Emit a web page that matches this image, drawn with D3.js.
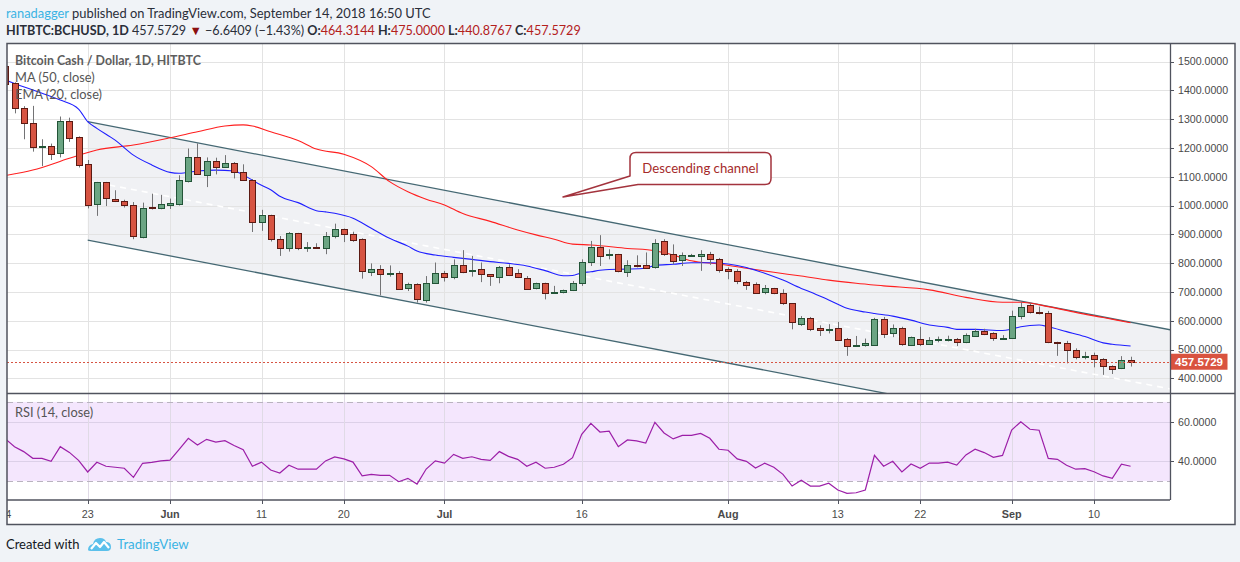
<!DOCTYPE html>
<html><head><meta charset="utf-8">
<script src="https://cdn.jsdelivr.net/npm/d3@7"></script>
<style>
html,body{margin:0;padding:0;background:#f0f3f7;}
svg{display:block;}
</style></head><body>
<svg id="c" width="1240" height="562"></svg>
<script>
// ---------------- DATA ----------------
const startDate = "2018-05-14"; // first daily candle, one candle per day
const opens  = [1485,1424,1338,1285,1201,1207,1180,1294,1238,1143,1002,1080,1024,1017,1002,894,994,990,
  1002,1005,1087,1170,1108,1156,1134,1149,1118,1090,943,966,883,851,903,853,857,854,894,917,900,883,770,781,763,767,712,726,674,732,
  767,753,795,771,778,761,753,788,765,750,712,730,696,698,706,730,804,857,827,830,771,795,794,788,877,833,810,825,826,833,816,
  779,771,736,729,698,713,695,660,591,611,573,568,576,538,512,515,515,606,554,573,515,537,521,532,533,536,525,548,565,556,538,
  540,617,655,629,626,525,521,498,473,481,467,443,435,464.3144];
const highs  = [1490,1428,1345,1346,1230,1215,1309,1305,1240,1158,1082,1082,1053,1020,1012,1010,1041,1037,
  1024,1105,1198,1216,1167,1166,1175,1151,1143,1092,985,968,894,908,905,873,869,908,937,920,909,886,799,793,792,772,732,730,755,802,
  773,813,845,825,802,762,790,796,779,755,732,732,721,708,738,813,877,897,848,832,810,827,837,883,883,865,837,832,845,839,818,
  785,779,738,733,724,714,709,661,616,613,584,588,596,540,547,538,610,613,587,579,545,579,543,545,548,540,556,572,572,560,550,
  635,664,660,649,634,527,530,504,492,489,470,445,477,475.0000];
const lows   = [1415,1320,1230,1187,1137,1158,1167,1221,1132,990,964,998,1012,993,883,886,986,987,
  988,1000,1080,1109,1064,1108,1132,1094,1088,908,912,875,825,840,845,839,850,831,886,873,874,746,755,688,753,709,703,663,663,730,
  736,744,765,753,734,721,730,755,748,709,709,674,694,695,703,721,790,790,813,768,752,785,783,781,825,796,790,822,773,794,767,
  744,727,707,695,692,692,655,570,582,564,547,556,530,478,510,510,513,540,543,513,512,512,519,525,528,512,522,545,550,530,535,
  538,605,625,622,522,478,452,466,466,438,412,415,432,440.8767];
const closes = [1424,1338,1285,1201,1206,1180,1292,1236,1140,1002,1080,1024,1016,1002,894,993,990,1004,
  1008,1087,1170,1112,1156,1134,1149,1118,1090,943,966,883,851,903,850,856,854,894,917,898,880,771,781,764,767,712,726,674,732,767,
  753,795,769,775,761,753,788,761,750,712,730,695,699,706,730,804,857,827,830,771,794,791,785,871,833,810,827,828,833,816,779,
  771,736,724,698,713,694,660,594,611,573,567,570,533,512,515,522,606,554,573,517,542,518,534,535,537,525,550,565,556,537,541,
  617,649,629,626,525,521,498,473,477,467,443,431,464.21,457.5729];
const lastClose = 457.5729;

const rsiValues = [51.3,47.4,44.9,41.5,41.5,40,47.4,44.5,40.5,34.6,39.5,37.5,37,36.5,31.9,39,39.5,40.2,
  40.6,46,51.6,48.2,51.1,49.7,50.4,48,45.9,37.5,39.6,35.6,34.1,38,36,36,36,40.2,42.2,41.2,39.6,32.6,33.4,32.9,32.9,29.7,31.4,28.5,36.1,40.2,
  39.1,43.5,41.5,42.3,41,40.5,44.9,42.5,41,37.5,39.5,36.5,37,38.5,41.8,53.6,59.2,54.8,55.2,47.4,50.8,50.3,49.2,59.7,54.3,51.3,53.1,53.1,54.1,51.6,46.1,
  45.6,41.2,40,36.6,39,37,33.4,27.5,30.4,27.5,27.5,28.9,25.5,23.8,24.1,25.5,43,37.5,40,34.6,38.6,36.5,39.1,39.1,39.6,38.1,43.2,46.1,44.4,42,43,
  55.8,60,56.2,55.7,41.5,41,38,36,36.3,34.7,32.6,31.4,38.5,37.5];

const emaDates  = ["2018-05-14","2018-05-15","2018-05-18","2018-05-20","2018-05-22","2018-05-23","2018-05-24","2018-05-26","2018-05-28","2018-05-30",
  "2018-06-01","2018-06-02","2018-06-04","2018-06-06","2018-06-08","2018-06-09","2018-06-11","2018-06-12","2018-06-13","2018-06-15","2018-06-17",
  "2018-06-18","2018-06-19","2018-06-21","2018-06-23","2018-06-25","2018-06-27","2018-06-28","2018-06-30","2018-07-02","2018-07-04","2018-07-06",
  "2018-07-08","2018-07-10","2018-07-12","2018-07-14","2018-07-15","2018-07-16","2018-07-17","2018-07-18","2018-07-19","2018-07-21","2018-07-23",
  "2018-07-24","2018-07-26","2018-07-28","2018-07-30","2018-08-01","2018-08-03","2018-08-05","2018-08-07","2018-08-09","2018-08-10","2018-08-12",
  "2018-08-14","2018-08-16","2018-08-17","2018-08-19","2018-08-21","2018-08-23","2018-08-25","2018-08-26","2018-08-28","2018-08-31","2018-09-01",
  "2018-09-02","2018-09-04","2018-09-05","2018-09-07","2018-09-09","2018-09-11","2018-09-12","2018-09-14"];
const emaValues = [1436,1424,1390,1366,1335,1291,1268,1227,1175,1141,
  1115,1112,1120,1123,1120,1106,1070,1055,1032,1010,982,
  978,973,956,921,886,859,842,828,820,813,805,
  799,790,774,756,757,766,770,775,778,779,782,
  792,796,801,801,797,785,765,741,712,700,672,
  643,630,625,616,602,585,577,570,570,566,571,
  579,585,579,562,545,523,518,512];

const maDates  = ["2018-05-14","2018-05-17","2018-05-21","2018-05-24","2018-05-28","2018-06-01","2018-06-04","2018-06-07","2018-06-09","2018-06-10",
  "2018-06-12","2018-06-15","2018-06-17","2018-06-20","2018-06-23","2018-06-25","2018-06-27","2018-06-29","2018-07-01","2018-07-03","2018-07-06",
  "2018-07-09","2018-07-11","2018-07-13","2018-07-15","2018-07-17","2018-07-21","2018-07-24","2018-07-26","2018-07-28","2018-07-31","2018-08-03",
  "2018-08-06","2018-08-09","2018-08-12","2018-08-15","2018-08-18","2018-08-23","2018-08-27","2018-08-31","2018-09-02","2018-09-05","2018-09-08",
  "2018-09-11","2018-09-14"];
const maValues = [1104,1123,1164,1193,1210,1235,1256,1276,1280,1276,
  1256,1226,1196,1178,1135,1083,1048,1022,1002,972,945,
  915,898,883,866,863,851,843,828,808,797,782,
  768,755,741,730,721,707,681,664,664,649,629,
  611,593];

// descending channel drawn by the author: two anchor points per edge
const channelUpper = [["2018-05-23", 1291], ["2018-09-14", 595]];
const channelLower = [["2018-05-23", 880], ["2018-08-19", 343]];

const priceTicks = [400,500,600,700,800,900,1000,1100,1200,1300,1400,1500];
const rsiTicks = [40, 60];
const rsiBands = [30, 70];
const timeTicks = [["2018-05-14","14",false],["2018-05-23","23",false],["2018-06-01","Jun",true],["2018-06-11","11",false],
  ["2018-06-20","20",false],["2018-07-01","Jul",true],["2018-07-16","16",false],["2018-08-01","Aug",true],["2018-08-13","13",false],
  ["2018-08-22","22",false],["2018-09-01","Sep",true],["2018-09-10","10",false]];

// ---------------- LAYOUT ----------------
const FONT = "Lato, 'Liberation Sans', Arial, sans-serif";
const AXF = "'Liberation Sans', Arial, sans-serif";
const L = 7, R = 1170, FR = 1235, T = 43.5, MB = 393.5, RB = 500, B = 524.5;

const parse = d3.utcParse("%Y-%m-%d");
const day0 = parse(startDate);
const candles = opens.map((o, i) => ({date: d3.utcDay.offset(day0, i), o, h: highs[i], l: lows[i], c: closes[i]}));

const x = d3.scaleUtc().domain([parse("2018-05-23"), parse("2018-09-10")]).range([87.7, 1094]);
const y = d3.scaleLinear().domain([349, 1560.8]).range([393, 44]);
const yR = d3.scaleLinear().domain([20.45, 74]).range([500, 394]);

const svg = d3.select("#c");
const defs = svg.append("defs");
defs.append("clipPath").attr("id","cm").append("rect").attr("x",L).attr("y",T).attr("width",R-L).attr("height",MB-T);
defs.append("clipPath").attr("id","cr").append("rect").attr("x",L).attr("y",MB).attr("width",R-L).attr("height",RB-MB);
defs.append("clipPath").attr("id","ct").append("rect").attr("x",L).attr("y",RB).attr("width",FR-L).attr("height",B-RB);

// header
const h1 = svg.append("text").attr("x",6).attr("y",18).attr("font-family",FONT).attr("font-size",12.9).attr("fill","#2a2e39");
h1.append("tspan").attr("fill","#3bb3e4").text("ranadagger");
h1.append("tspan").text(" published on TradingView.com, September 14, 2018 16:50 UTC");
const h2 = svg.append("text").attr("x",6).attr("y",34.5).attr("font-family",FONT).attr("font-size",12.6).attr("fill","#2a2e39");
const red = "#b3201c";
h2.append("tspan").attr("font-weight","bold").text("HITBTC:BCHUSD, 1D");
h2.append("tspan").text(" 457.5729 ");
h2.append("tspan").attr("fill","#8b0f0f").text("▼");
h2.append("tspan").text(" −6.6409 (−1.43%) ");
[["O:","464.3144"],["H:","475.0000"],["L:","440.8767"],["C:","457.5729"]].forEach(([k,v],i)=>{
  h2.append("tspan").attr("font-weight","bold").text((i?" ":"")+k);
  h2.append("tspan").attr("fill",red).text(v);
});

// frame
svg.append("rect").attr("x",L).attr("y",T).attr("width",FR-L).attr("height",B-T).attr("fill","#fff");

// ---------- main pane ----------
const gm = svg.append("g").attr("clip-path","url(#cm)");
// channel geometry (pixel space, extended to the right edge)
function lineFn(pts){
  const p0=[x(parse(pts[0][0])), y(pts[0][1])], p1=[x(parse(pts[1][0])), y(pts[1][1])];
  const k=(p1[1]-p0[1])/(p1[0]-p0[0]);
  return {x0:p0[0], at:(xx)=>p0[1]+k*(xx-p0[0])};
}
const up = lineFn(channelUpper), lo = lineFn(channelLower);
const cx0 = up.x0, cx1 = R + 2;
gm.append("path").attr("fill","#f0f1f4")
  .attr("d",`M${cx0},${up.at(cx0)}L${cx1},${up.at(cx1)}L${cx1},${lo.at(cx1)}L${cx0},${lo.at(cx0)}Z`);
// grid
gm.selectAll(".hg").data(priceTicks).join("line").attr("x1",L).attr("x2",R)
  .attr("y1",d=>Math.round(y(d))+0.5).attr("y2",d=>Math.round(y(d))+0.5).attr("stroke","#e3e3e3");
svg.append("g").attr("clip-path","url(#cm)").selectAll("line").data(timeTicks).join("line")
  .attr("x1",d=>Math.round(x(parse(d[0])))+0.5).attr("x2",d=>Math.round(x(parse(d[0])))+0.5)
  .attr("y1",T).attr("y2",MB).attr("stroke","#e3e3e3");
const gm2 = svg.append("g").attr("clip-path","url(#cm)");
// channel lines
gm2.append("line").attr("x1",cx0).attr("y1",up.at(cx0)).attr("x2",cx1).attr("y2",up.at(cx1)).attr("stroke","#456873").attr("stroke-width",1.3);
gm2.append("line").attr("x1",cx0).attr("y1",lo.at(cx0)).attr("x2",cx1).attr("y2",lo.at(cx1)).attr("stroke","#456873").attr("stroke-width",1.3);
gm2.append("line").attr("x1",cx0).attr("y1",(up.at(cx0)+lo.at(cx0))/2).attr("x2",cx1).attr("y2",(up.at(cx1)+lo.at(cx1))/2)
  .attr("stroke","#ffffff").attr("stroke-width",1.6).attr("stroke-dasharray","6,5");

// MA & EMA
const lineGen = d3.line().x(d=>x(d[0])).y(d=>y(d[1])).curve(d3.curveMonotoneX);
gm2.append("path").attr("d",lineGen(maDates.map((d,i)=>[parse(d),maValues[i]]))).attr("fill","none").attr("stroke","#ff1f1f").attr("stroke-width",1.1);
gm2.append("path").attr("d",lineGen(emaDates.map((d,i)=>[parse(d),emaValues[i]]))).attr("fill","none").attr("stroke","#1f1fff").attr("stroke-width",1.1);

// candles
const cg = gm2.append("g");
cg.selectAll(".w").data(candles).join("line")
  .attr("x1",d=>Math.round(x(d.date))+0.5).attr("x2",d=>Math.round(x(d.date))+0.5)
  .attr("y1",d=>y(d.h)).attr("y2",d=>y(d.l)).attr("stroke","#737375").attr("stroke-width",1);
cg.selectAll(".b").data(candles).join("rect")
  .attr("x",d=>Math.round(x(d.date))-2.5).attr("width",6)
  .attr("y",d=>Math.round(y(Math.max(d.o,d.c)))+0.5)
  .attr("height",d=>Math.max(1,Math.round(Math.abs(y(d.o)-y(d.c)))))
  .attr("fill",d=>d.c>=d.o?"#6ba583":"#d75442")
  .attr("stroke",d=>d.c>=d.o?"#225437":"#5b1a13").attr("stroke-width",1);

// last price line
gm2.append("line").attr("x1",L).attr("x2",R).attr("y1",Math.round(y(lastClose))+0.5).attr("y2",Math.round(y(lastClose))+0.5)
  .attr("stroke","#d75442").attr("stroke-dasharray","2,2");

// callout
const callout = svg.append("g");
callout.append("path")
  .attr("d","M636,152.5H765Q771,152.5 771,158.5V178.5Q771,184.5 765,184.5H638L563,197L630,176V158.5Q630,152.5 636,152.5Z")
  .attr("fill","#fff").attr("stroke","#a3333d").attr("stroke-width",1.5).attr("stroke-linejoin","round");
callout.append("text").attr("x",700.5).attr("y",173).attr("text-anchor","middle").attr("font-family",FONT).attr("font-size",13.2)
  .attr("fill","#a52a2a").text("Descending channel");

// legend
const lg = svg.append("g").attr("font-family",FONT).attr("font-size",12.8).attr("fill","#555");
lg.append("text").attr("x",15).attr("y",65).attr("font-weight","bold").attr("font-size",12.4).attr("fill","#5d5d5d").text("Bitcoin Cash / Dollar, 1D, HITBTC");
lg.append("text").attr("x",15).attr("y",82).text("MA (50, close)");
lg.append("text").attr("x",15).attr("y",99).text("EMA (20, close)");

// ---------- RSI pane ----------
const gr = svg.append("g").attr("clip-path","url(#cr)");
gr.append("rect").attr("x",L).attr("width",R-L).attr("y",yR(rsiBands[1])).attr("height",yR(rsiBands[0])-yR(rsiBands[1])).attr("fill","#f4e6fd");
gr.selectAll(".rg").data(rsiTicks).join("line").attr("x1",L).attr("x2",R)
  .attr("y1",d=>Math.round(yR(d))+0.5).attr("y2",d=>Math.round(yR(d))+0.5).attr("stroke","#dcd0e8");
gr.selectAll(".rv").data(timeTicks).join("line")
  .attr("x1",d=>Math.round(x(parse(d[0])))+0.5).attr("x2",d=>Math.round(x(parse(d[0])))+0.5)
  .attr("y1",MB).attr("y2",RB).attr("stroke","#e0dae6");
gr.selectAll(".rb").data(rsiBands).join("line").attr("x1",L).attr("x2",R)
  .attr("y1",d=>Math.round(yR(d))+0.5).attr("y2",d=>Math.round(yR(d))+0.5).attr("stroke","#b9b3bf").attr("stroke-dasharray","6,4");
gr.append("path").attr("d",d3.line().x((d,i)=>x(candles[i].date)).y(d=>yR(d))(rsiValues))
  .attr("fill","none").attr("stroke","#9c1fa8").attr("stroke-width",1.2);
svg.append("text").attr("x",15).attr("y",417).attr("font-family",FONT).attr("font-size",12.8).attr("fill","#555").text("RSI (14, close)");

// ---------- axes ----------
const ax = svg.append("g").attr("font-family",AXF).attr("font-size",10.6).attr("fill","#4a4a4a");
ax.selectAll(".pt").data(priceTicks).join("line").attr("x1",R).attr("x2",R+4)
  .attr("y1",d=>Math.round(y(d))+0.5).attr("y2",d=>Math.round(y(d))+0.5).attr("stroke","#50535e");
ax.selectAll(".pl").data(priceTicks).join("text").attr("x",R+8).attr("y",d=>y(d)).attr("dy","0.36em").text(d=>d3.format(".4f")(d));
ax.selectAll(".rt").data(rsiTicks).join("line").attr("x1",R).attr("x2",R+4)
  .attr("y1",d=>Math.round(yR(d))+0.5).attr("y2",d=>Math.round(yR(d))+0.5).attr("stroke","#50535e");
ax.selectAll(".rl").data(rsiTicks).join("text").attr("x",R+8).attr("y",d=>yR(d)).attr("dy","0.36em").text(d=>d3.format(".4f")(d));
// time axis
const tg = svg.append("g").attr("clip-path","url(#ct)").attr("font-family",AXF).attr("font-size",10.8).attr("fill","#4a4a4a");
tg.selectAll("line").data(timeTicks).join("line")
  .attr("x1",d=>Math.round(x(parse(d[0])))+0.5).attr("x2",d=>Math.round(x(parse(d[0])))+0.5)
  .attr("y1",RB).attr("y2",RB+4).attr("stroke","#50535e");
tg.selectAll("text").data(timeTicks).join("text").attr("x",d=>x(parse(d[0]))).attr("y",514).attr("dy","0.36em")
  .attr("text-anchor","middle").attr("font-weight",d=>d[2]?"bold":"normal").text(d=>d[1]);

// last price label
svg.append("rect").attr("x",R+0.5).attr("y",y(lastClose)-8).attr("width",57).attr("height",16).attr("fill","#d9533f");
svg.append("text").attr("x",R+5).attr("y",y(lastClose)).attr("dy","0.36em").attr("font-family",AXF).attr("font-size",11.5)
  .attr("font-weight","bold").attr("fill","#fff").text(d3.format(".4f")(lastClose));

// borders / separators
const bs = "#50535e";
svg.append("rect").attr("x",L).attr("y",T).attr("width",FR-L).attr("height",B-T).attr("fill","none").attr("stroke",bs).attr("stroke-width",1.5);
svg.append("line").attr("x1",R+0.5).attr("x2",R+0.5).attr("y1",T).attr("y2",RB).attr("stroke",bs).attr("stroke-width",1.3);
svg.append("line").attr("x1",L).attr("x2",FR).attr("y1",MB).attr("y2",MB).attr("stroke",bs).attr("stroke-width",1.3);
svg.append("line").attr("x1",L).attr("x2",R).attr("y1",RB).attr("y2",RB).attr("stroke",bs).attr("stroke-width",1.3);

// footer
svg.append("text").attr("x",6).attr("y",549).attr("font-family",FONT).attr("font-size",13).attr("fill","#131722").text("Created with");
const logo = svg.append("g").attr("transform","translate(88,537)");
logo.append("path").attr("d","M0,13 Q0,8 5,7 Q6,1 12,1 Q17,1 18,5 Q23,5 23,10 Q23,14 19,14 L3,14 Q0,14 0,13Z").attr("fill","#5bc0eb");
logo.append("path").attr("d","M3,12 L8,6 L12,10 L16,5 L21,11").attr("fill","none").attr("stroke","#fff").attr("stroke-width",2.2).attr("stroke-linejoin","round");
svg.append("text").attr("x",117).attr("y",549).attr("font-family",FONT).attr("font-size",13.3).attr("fill","#3bb3e4").text("TradingView");
</script>
</body></html>
